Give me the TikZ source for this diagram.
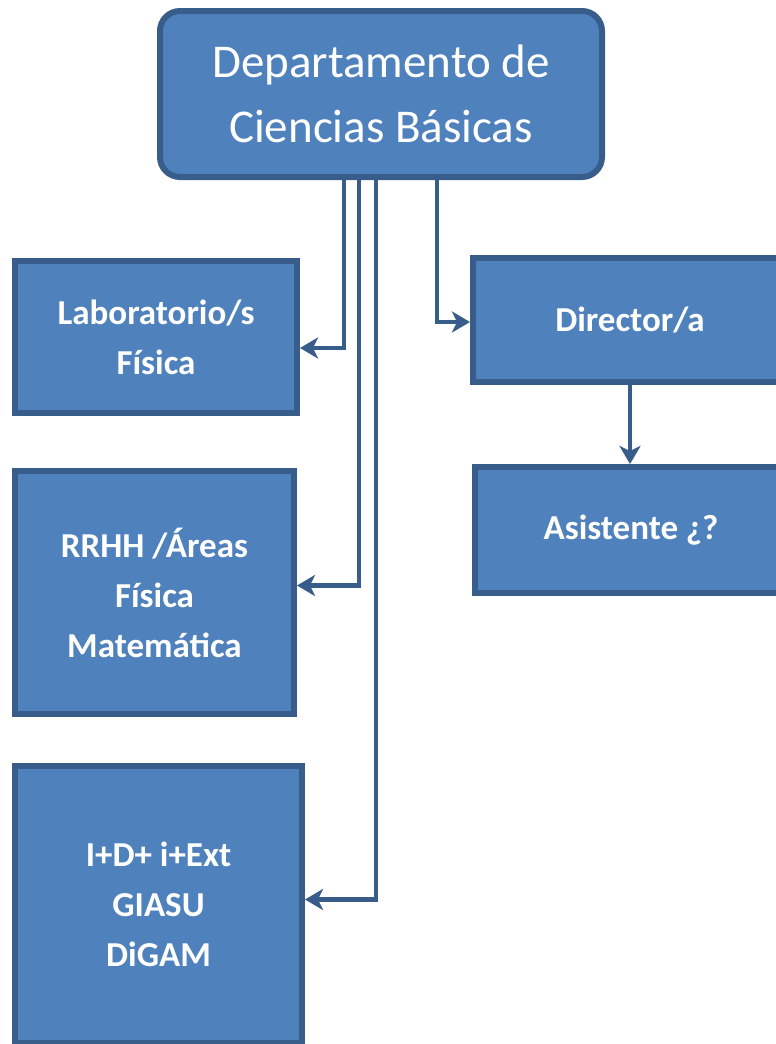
\documentclass[tikz,border=0pt]{standalone}
\usepackage{fontspec}
\setmainfont{Carlito}
\usetikzlibrary{arrows.meta,shadows}
\definecolor{boxfill}{HTML}{4F81BD}
\definecolor{boxline}{HTML}{385D8A}
\begin{document}
\begin{tikzpicture}[x=1pt,y=-1pt,
    unit/.style={draw=boxline, fill=boxfill, line width=6pt, text=white, align=center,
        font=\bfseries\fontsize{35}{50}\selectfont,
        drop shadow={shadow xshift=1.5pt, shadow yshift=-1.5pt, fill=gray, opacity=0.6}},
    conn/.style={draw=boxline, line width=4.5pt, -{Stealth[length=18pt,width=21pt,inset=5pt]}}]
	\useasboundingbox (0,0) rectangle (776,1044);
	\node[unit, rounded corners=20pt, minimum width=442pt, minimum height=166pt,
	      font=\fontsize{47}{65}\selectfont] (dept) at (381,94) {Departamento de\\Ciencias Básicas};
	\node[unit, minimum width=282pt, minimum height=152pt] (lab) at (156,337) {Laboratorio/s\\Física};
	\node[unit, minimum width=279pt, minimum height=243pt] (rrhh) at (154.5,592.5) {RRHH /Áreas\\Física\\Matemática};
	\node[unit, minimum width=287pt, minimum height=277pt] (idi) at (158.5,904.5) {I+D+ i+Ext\\GIASU\\DiGAM};
	\node[unit, minimum width=314pt, minimum height=124pt] (dir) at (630,320) {Director/a};
	\node[unit, minimum width=312pt, minimum height=126pt] (asis) at (631,530) {Asistente ¿?};
	\draw[conn] ([xshift=-37pt]dept.south) |- ([yshift=-11pt]lab.east);
	\draw[conn] ([xshift=-22pt]dept.south) |- ([yshift=7pt]rrhh.east);
	\draw[conn] ([xshift=-5pt]dept.south) |- ([yshift=5pt]idi.east);
	\draw[conn] ([xshift=56pt]dept.south) |- ([yshift=-2pt]dir.west);
	\draw[conn, line width=3.5pt] (dir.south) -- (dir.south |- asis.north);
\end{tikzpicture}
\end{document}
